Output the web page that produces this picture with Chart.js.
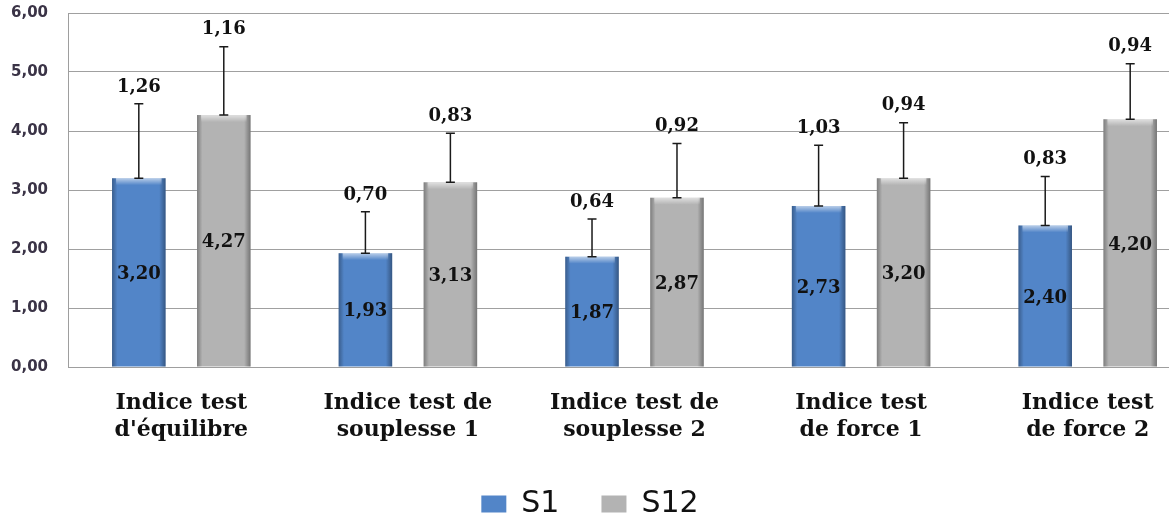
<!DOCTYPE html>
<html>
<head>
<meta charset="utf-8">
<script src="https://cdn.jsdelivr.net/npm/chart.js@4/dist/chart.umd.min.js"></script>
<style>
  html, body { margin: 0; padding: 0; background: #fff; overflow: hidden; }
  #wrap { width: 1201px; height: 529px; }
</style>
</head>
<body>
<div id="wrap"><canvas id="chart"></canvas></div>
<script>
// categories and values
const categories = [
  ['Indice test', "d'équilibre"],
  ['Indice test de', 'souplesse 1'],
  ['Indice test de', 'souplesse 2'],
  ['Indice test', 'de force 1'],
  ['Indice test', 'de force 2']
];
const s1Values  = [3.20, 1.93, 1.87, 2.73, 2.40];
const s12Values = [4.27, 3.13, 2.87, 3.20, 4.20];
// standard deviations shown above the error bars
const s1Sd  = [1.26, 0.70, 0.64, 1.03, 0.83];
const s12Sd = [1.16, 0.83, 0.92, 0.94, 0.94];
const yTicks = [0, 1, 2, 3, 4, 5, 6];

const fmt = v => v.toFixed(2).replace('.', ',');

// bevel shading, error bars and labels on each bar
const barDeco = {
  id: 'barDeco',
  afterDatasetsDraw(chart) {
    const ctx = chart.ctx;
    const yScale = chart.scales.y;
    chart.data.datasets.forEach((ds, di) => {
      const meta = chart.getDatasetMeta(di);
      meta.data.forEach((bar, i) => {
        const { x, y, base, width } = bar.getProps(['x', 'y', 'base', 'width'], true);
        const left = x - width / 2;
        ctx.save();

        // side shading to look like Excel's bevel
        const g = ctx.createLinearGradient(left, 0, left + width, 0);
        g.addColorStop(0, 'rgba(0,0,0,0.30)');
        g.addColorStop(0.1, 'rgba(0,0,0,0.0)');
        g.addColorStop(0.88, 'rgba(0,0,0,0.0)');
        g.addColorStop(1, 'rgba(0,0,0,0.35)');
        ctx.fillStyle = g;
        ctx.fillRect(left, y, width, base - y);
        const t = ctx.createLinearGradient(0, y, 0, y + 7);
        t.addColorStop(0, 'rgba(255,255,255,0.6)');
        t.addColorStop(1, 'rgba(255,255,255,0)');
        ctx.fillStyle = t;
        ctx.fillRect(left + 4, y, width - 8, 7);

        // error bar (upper half only)
        const sd = ds.sd[i];
        const yTop = yScale.getPixelForValue(ds.data[i] + sd);
        ctx.strokeStyle = '#1a1a1a';
        ctx.lineWidth = 1.5;
        ctx.beginPath();
        ctx.moveTo(x, y);
        ctx.lineTo(x, yTop);
        ctx.moveTo(x - 4.5, yTop);
        ctx.lineTo(x + 4.5, yTop);
        ctx.moveTo(x - 4.5, y);
        ctx.lineTo(x + 4.5, y);
        ctx.stroke();

        ctx.fillStyle = '#111';
        ctx.font = 'bold 18px "DejaVu Serif"';
        ctx.textAlign = 'center';
        ctx.textBaseline = 'bottom';
        ctx.fillText(fmt(sd), x, yTop - 8);

        // value inside the bar
        ctx.textBaseline = 'middle';
        ctx.fillText(fmt(ds.data[i]), x, (y + base) / 2 + 2);
        ctx.restore();
      });
    });
  }
};

new Chart(document.getElementById('chart'), {
  type: 'bar',
  data: {
    labels: categories,
    datasets: [
      { label: 'S1', data: s1Values, sd: s1Sd, backgroundColor: '#5285c8', borderWidth: 0 },
      { label: 'S12', data: s12Values, sd: s12Sd, backgroundColor: '#b3b3b3', borderWidth: 0 }
    ]
  },
  options: {
    responsive: true,
    maintainAspectRatio: false,
    animation: false,
    categoryPercentage: 0.75,
    barPercentage: 0.63,
    layout: { padding: { top: 13, left: -21, right: 0, bottom: 0 } },
    plugins: {
      tooltip: { enabled: false },
      legend: {
        position: 'bottom',
        labels: {
          boxWidth: 25,
          boxHeight: 17,
          padding: 42,
          color: '#111',
          font: { family: '"DejaVu Sans"', size: 30 }
        }
      }
    },
    scales: {
      x: {
        grid: { display: false },
        border: { display: true, color: '#9e9e9e' },
        ticks: {
          color: '#111',
          padding: 15,
          maxRotation: 0,
          autoSkip: false,
          font: { family: '"DejaVu Serif"', size: 22, weight: 'bold', lineHeight: 1.22 }
        },
        afterFit: scale => { scale.height = 80; }
      },
      y: {
        min: 0,
        max: 6,
        afterBuildTicks: scale => { scale.ticks = yTicks.map(v => ({ value: v })); },
        grid: { color: '#a0a0a0', lineWidth: 1, drawTicks: false },
        border: { display: true, color: '#9e9e9e' },
        ticks: {
          color: '#3a3346',
          padding: 20,
          font: { family: '"DejaVu Sans"', size: 15, weight: 'bold' },
          callback: v => fmt(v)
        },
        afterFit: scale => {
          scale.width = 89;
          scale.paddingTop = 8;
          scale.paddingBottom = 8;
        }
      }
    }
  },
  plugins: [barDeco]
});
</script>
</body>
</html>
